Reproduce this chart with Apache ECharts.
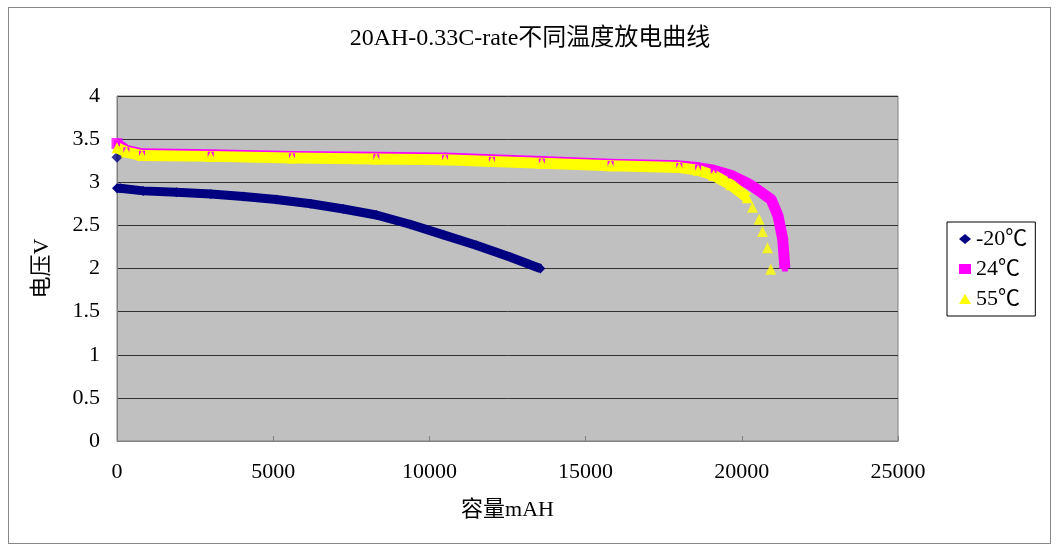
<!DOCTYPE html>
<html>
<head>
<meta charset="utf-8">
<title>20AH-0.33C-rate</title>
<script src="https://cdn.jsdelivr.net/npm/echarts@6/dist/echarts.min.js"></script>
<style>
  html, body { margin: 0; padding: 0; background: #fff; }
  #frame { position: absolute; left: 8px; top: 7px; width: 1041px; height: 535px; border: 1px solid #888; }
  #main { position: absolute; left: 0; top: 0; width: 1060px; height: 551px; }
</style>
</head>
<body>
<div id="frame"></div>
<div id="main"></div>
<script>
// 放电数据 [容量mAH, 电压V]
var seriesNames = ['-20℃', '24℃', '55℃'];
var xTicks = [0, 5000, 10000, 15000, 20000, 25000];
var yTicks = [0, 0.5, 1, 1.5, 2, 2.5, 3, 3.5, 4];

var minus20Start = [[0, 3.29]];
var minus20 = [
  [0, 2.93], [100, 2.93], [840, 2.90], [1900, 2.885], [3000, 2.865], [4050, 2.835],
  [5100, 2.80], [6200, 2.75], [7250, 2.69], [8300, 2.62], [9400, 2.51],
  [10450, 2.39], [11500, 2.27], [12600, 2.13], [13550, 2.0]
];
var temp24Start = [[0, 3.45]];
var temp24 = [
  [0, 3.45], [300, 3.37], [800, 3.33], [3000, 3.32], [5600, 3.30], [8300, 3.29],
  [10500, 3.28], [12000, 3.26], [13600, 3.24], [15800, 3.21], [18000, 3.19],
  [18600, 3.17], [19100, 3.14], [19650, 3.08], [20180, 2.99], [20400, 2.94],
  [20940, 2.80], [21160, 2.61], [21310, 2.34], [21380, 2.0]
];
var temp55 = [
  [0, 3.40], [300, 3.35], [800, 3.31], [3000, 3.30], [5600, 3.28], [8300, 3.27],
  [10500, 3.26], [12000, 3.24], [13600, 3.22], [15800, 3.19], [18000, 3.17],
  [18600, 3.14], [19100, 3.08], [19650, 2.97], [20180, 2.82]
];
var temp55Tail = [[20340, 2.71], [20554, 2.57], [20663, 2.43], [20823, 2.24], [20929, 1.99]];

var serif = "'Liberation Serif', 'Noto Sans CJK SC', serif";
var chart = echarts.init(document.getElementById('main'));

function band(name, data, color, symbol, size, width) {
  return {
    name: name, type: 'line', data: data,
    symbol: symbol, symbolSize: size, showSymbol: true,
    itemStyle: { color: color },
    lineStyle: { color: color, width: width, join: 'round' },
    emphasis: { disabled: true }
  };
}

var option = {
  animation: false,
  title: {
    text: '20AH-0.33C-rate不同温度放电曲线',
    left: 'center', top: 22,
    textStyle: { fontFamily: serif, fontSize: 24, fontWeight: 'normal', color: '#000' }
  },
  legend: {
    orient: 'vertical', left: 947, top: 222,
    borderColor: '#000', borderWidth: 1,
    padding: [6, 8, 6, 12], itemGap: 8,
    itemWidth: 12, itemHeight: 10,
    textStyle: { fontFamily: serif, fontSize: 22, color: '#000' },
    data: [
      { name: seriesNames[0], icon: 'diamond' },
      { name: seriesNames[1], icon: 'rect' },
      { name: seriesNames[2], icon: 'triangle' }
    ]
  },
  grid: {
    left: 117, top: 96, right: 162, bottom: 110,
    show: true, backgroundColor: '#C0C0C0', borderColor: '#808080', borderWidth: 1
  },
  xAxis: {
    type: 'value', min: xTicks[0], max: xTicks[xTicks.length - 1], interval: 5000,
    name: '容量mAH', nameLocation: 'middle', nameGap: 58,
    nameTextStyle: { fontFamily: serif, fontSize: 22, color: '#000' },
    axisLine: { lineStyle: { color: '#808080' } },
    axisTick: { inside: true, length: 5, lineStyle: { color: '#808080' } },
    axisLabel: { margin: 20, fontFamily: serif, fontSize: 22, color: '#000',
      formatter: function (v) { return String(v); } },
    splitLine: { show: false }
  },
  yAxis: {
    type: 'value', min: yTicks[0], max: yTicks[yTicks.length - 1], interval: 0.5,
    name: '电压V', nameLocation: 'middle', nameGap: 64,
    nameTextStyle: { fontFamily: serif, fontSize: 22, color: '#000' },
    axisLine: { show: true, lineStyle: { color: '#808080' } },
    axisTick: { show: false },
    axisLabel: { margin: 17, fontFamily: serif, fontSize: 22, color: '#000' },
    splitLine: { lineStyle: { color: '#333', width: 1 } }
  },
  series: [
    band(seriesNames[0], minus20, '#000080', 'diamond', 10, 9),
    { name: seriesNames[0], type: 'scatter', data: minus20Start, symbol: 'diamond', symbolSize: 11,
      itemStyle: { color: '#000080' } },
    band(seriesNames[1], temp24, '#FF00FF', 'rect', 6, 11),
    { name: seriesNames[1], type: 'scatter', data: temp24Start, symbol: 'rect', symbolSize: 11,
      itemStyle: { color: '#FF00FF' } },
    band(seriesNames[2], temp55, '#FFFF00', 'triangle', 11, 11),
    { name: seriesNames[2], type: 'scatter', data: temp55Tail, symbol: 'triangle', symbolSize: 11,
      itemStyle: { color: '#FFFF00' } }
  ]
};
chart.setOption(option);
</script>
</body>
</html>
